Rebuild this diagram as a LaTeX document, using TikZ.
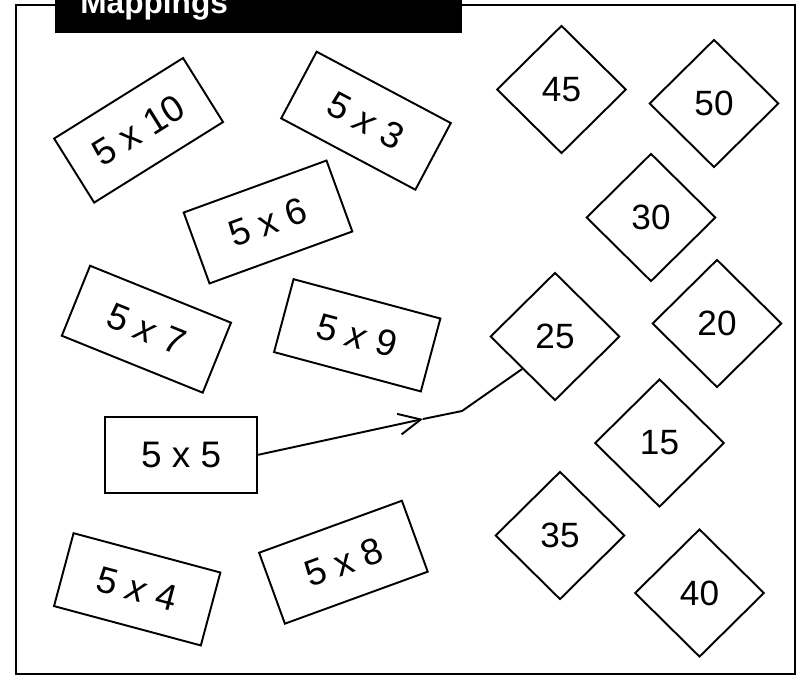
\documentclass[tikz,border=0pt]{standalone}
\usepackage{fontspec}
\setmainfont{Liberation Sans}
\usetikzlibrary{shapes,arrows.meta}

\tikzset{
  card/.style={rectangle, draw, line width=1.1pt, minimum width=3.04cm, minimum height=1.51cm, inner sep=0pt, font=\fontsize{21}{24}\selectfont},
  prod/.style={diamond, draw, line width=1.1pt, minimum width=2.59cm, minimum height=2.56cm, inner sep=0pt, font=\fontsize{20}{23}\selectfont}
}

\begin{document}
\begin{tikzpicture}[x=0.02cm, y=-0.02cm]
		\useasboundingbox (0,0) rectangle (800,676);
		\draw[line width=0.9pt] (16,5) rectangle (795,674);
		\fill (55,-5) rectangle (462,33);
		\path (80,13) node[anchor=base west, text=white, inner sep=0pt, font=\bfseries\fontsize{18}{20}\selectfont] (title) {Mappings};

		\path (138.6,130.3) node[card, rotate=32] (m10) {5 x 10}
  		(366,120.7) node[card, rotate=-28] (m3) {5 \textit{x} 3}
  		(268,222) node[card, rotate=20] (m6) {5 x 6}
  		(146.4,329.2) node[card, rotate=-22] (m7) {5 \textit{x} 7}
  		(357.2,335.3) node[card, rotate=-15] (m9) {5 \textit{x} 9}
  		(181.2,454.8) node[card] (m5) {5 x 5}
  		(137.2,589.3) node[card, rotate=-15] (m4) {5 \textit{x} 4}
  		(343.4,562.2) node[card, rotate=20] (m8) {5 x 8};

		\path (561.5,89.5) node[prod] (p45) {45}
  		(714,103.5) node[prod] (p50) {50}
  		(651,217.5) node[prod] (p30) {30}
  		(555,336.5) node[prod] (p25) {25}
  		(717,323.5) node[prod] (p20) {20}
  		(659.5,443) node[prod] (p15) {15}
  		(560,535.5) node[prod] (p35) {35}
  		(699.5,593) node[prod] (p40) {40};

		\coordinate (tip) at (423,419);
		\coordinate (bend) at (462,411);
		\draw[line width=1.1pt, -{Straight Barb[length=4.4mm, width=4.2mm]}] (m5.east) -- (tip);
		\draw[line width=1.1pt] (tip) -- (bend) -- (p25.south west);
	\end{tikzpicture}
\end{document}
